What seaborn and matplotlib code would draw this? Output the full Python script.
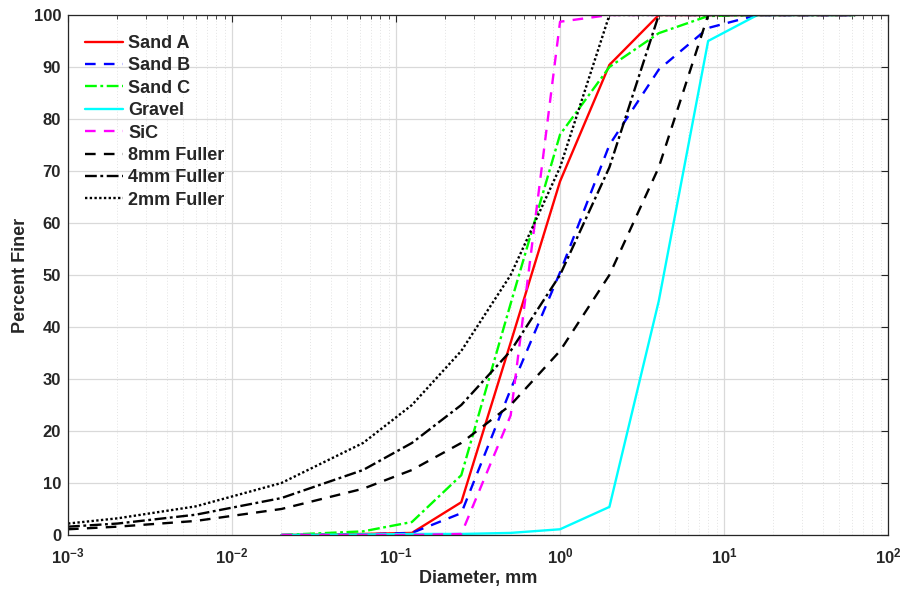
import matplotlib
matplotlib.use("Agg")
import matplotlib.pyplot as plt
import pandas as pd
import seaborn as sns
from matplotlib.ticker import LogLocator, MultipleLocator


# sieve sizes (mm)
FULLER_SIZES = [0.001, 0.002, 0.006, 0.02, 0.063, 0.125, 0.25, 0.5, 1, 2, 4, 8, 16, 31.5, 63]
SAND_SIZES = [0.02, 0.063, 0.125, 0.25, 0.5, 1, 2, 4, 8, 16, 31.5, 63]

sand_a = [0, 0.2, 0.4, 6.3, 37, 68, 90.4, 100, 100, 100, 100, 100]
sand_b = [0, 0.1, 0.4, 4.2, 28, 50.5, 75, 89.5, 97.5, 100, 100, 100]
sand_c = [0, 0.7, 2.5, 11.5, 44.5, 77, 90, 96.5, 99.8, 100, 100, 100]
gravel = [0, 0.1, 0.2, 0.2, 0.4, 1.1, 5.4, 45, 95, 100, 100, 100]
sic = [0, 0, 0, 0.2, 23, 98.7, 100, 100, 100, 100, 100, 100]

fuller_8mm = [1.1, 1.6, 2.7, 5, 8.9, 12.5, 17.7, 25, 35.4, 50, 70.7, 100, 100, 100, 100]
fuller_4mm = [1.6, 2.2, 3.9, 7.1, 12.5, 17.7, 25, 35.4, 50, 70.7, 100, 100, 100, 100, 100]
fuller_2mm = [2.2, 3.2, 5.5, 10, 17.7, 25, 35.4, 50, 70.7, 100, 100, 100, 100, 100, 100]

DASHED = (0, (4.5, 3.5))
DASHDOT = (0, (5, 1.5, 1.2, 1.5))

SERIES = [
    ("Sand A", SAND_SIZES, sand_a, "#ff0000", "-"),
    ("Sand B", SAND_SIZES, sand_b, "#0000ff", DASHED),
    ("Sand C", SAND_SIZES, sand_c, "#00ff00", DASHDOT),
    ("Gravel", SAND_SIZES, gravel, "#00ffff", "-"),
    ("SiC", SAND_SIZES, sic, "#ff00ff", DASHED),
    ("8mm Fuller", FULLER_SIZES, fuller_8mm, "black", DASHED),
    ("4mm Fuller", FULLER_SIZES, fuller_4mm, "black", DASHDOT),
    ("2mm Fuller", FULLER_SIZES, fuller_2mm, "black", (0, (1, 1))),
]

sns.set_style("white")
plt.rcParams["font.family"] = ["Liberation Sans", "DejaVu Sans"]
plt.rcParams["font.weight"] = "bold"
plt.rcParams["mathtext.fontset"] = "custom"
plt.rcParams["mathtext.rm"] = "Liberation Sans:bold"
plt.rcParams["mathtext.bf"] = "Liberation Sans:bold"
plt.rcParams["mathtext.default"] = "bf"

fig = plt.figure(figsize=(9, 5.92), dpi=100)
ax = fig.add_axes([0.0756, 0.0963, 0.9111, 0.8784])

for label, sizes, values, color, style in SERIES:
    df = pd.DataFrame({"size": sizes, "finer": values})
    sns.lineplot(
        data=df,
        x="size",
        y="finer",
        ax=ax,
        color=color,
        linestyle=style,
        linewidth=1.7,
        label=label,
        sort=False,
        estimator=None,
    )

ax.set_xscale("log")
ax.set_xlim(1e-3, 1e2)
ax.set_ylim(0, 100)
ax.yaxis.set_major_locator(MultipleLocator(10))
ax.xaxis.set_major_locator(LogLocator(base=10, numticks=10))
ax.xaxis.set_minor_locator(LogLocator(base=10, subs=range(2, 10), numticks=100))

ax.grid(True, which="major", color="#d9d9d9", linewidth=0.9, linestyle="-")
ax.grid(True, which="minor", axis="x", color="#e3e3e3", linewidth=0.7, linestyle=(0, (1, 2)))
ax.set_axisbelow(True)

ax.tick_params(which="both", direction="in", top=True, right=True, colors="#262626")
ax.tick_params(which="major", length=5, labelsize=12)
ax.tick_params(which="minor", length=3)
ax.tick_params(axis="x", which="major", pad=8)
ax.tick_params(axis="y", which="major", pad=5)
for label in ax.get_yticklabels():
    label.set_fontweight("bold")
for spine in ax.spines.values():
    spine.set_color("#262626")
    spine.set_linewidth(0.9)

ax.set_xlabel("Diameter, mm", fontsize=13, fontweight="bold", labelpad=3)
ax.set_ylabel("Percent Finer", fontsize=13, fontweight="bold", labelpad=3)

ax.legend(
    loc="upper left",
    bbox_to_anchor=(-0.004, 1.0),
    frameon=False,
    handlelength=2.1,
    handletextpad=0.3,
    labelspacing=0.3,
    borderaxespad=0.7,
    prop={"weight": "bold", "size": 13},
)

fig.savefig("out.png", dpi=100)
